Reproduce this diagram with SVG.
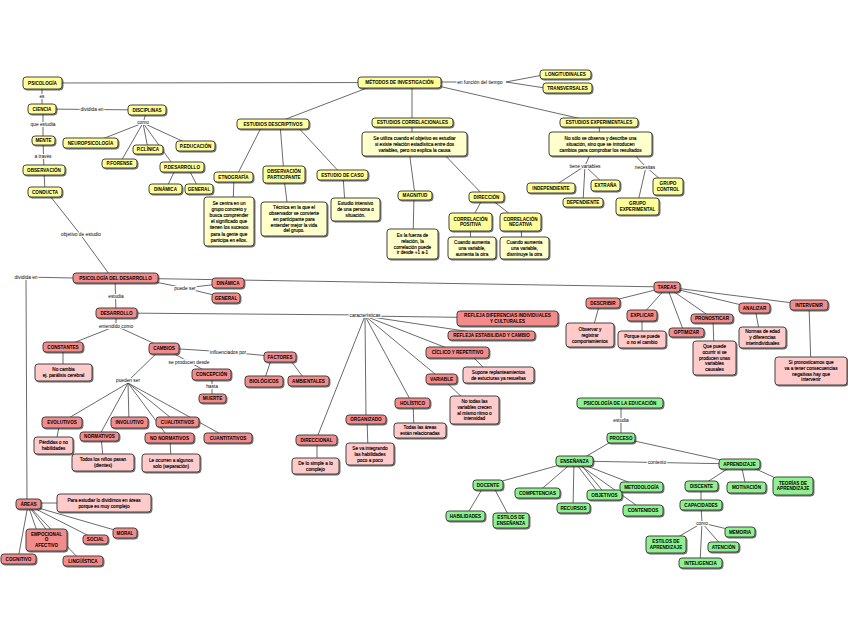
<svg xmlns="http://www.w3.org/2000/svg" width="848" height="638" viewBox="0 0 848 638">
<defs>
<filter id="sh" x="-20%" y="-20%" width="140%" height="160%"><feDropShadow dx="0.9" dy="1" stdDeviation="0.4" flood-color="#000" flood-opacity="0.6"/></filter>
<style>
.n rect{stroke:#444;stroke-width:1;filter:url(#sh)}
.y rect{fill:#ffff99}.yl rect{fill:#ffffcc}
.r rect{fill:#f38b8b}.rl rect{fill:#ffcaca}
.g rect{fill:#8ff08f}
text{font-family:"Liberation Sans",Arial,sans-serif;fill:#000;text-anchor:middle}
.n text{font-size:4.6px;font-weight:bold}
.yl text,.rl text{font-size:4.7px;font-weight:normal;stroke:#000;stroke-width:0.15px}
.lb{font-size:4.8px;stroke:#fff;stroke-width:2.2px;paint-order:stroke;stroke-linejoin:round}
.c{stroke:#444;stroke-width:0.8;fill:none}
</style>
</defs>
<rect width="848" height="638" fill="#fff"/>
<g id="connectors">
<path class="c" d="M42,83 L399,82.5 M42,83 L42,109 M42,109 L147,110 M43,109 L43,140 M43,140 L44,170 M44,170 L45,192 M50,196 L80,234 L112,278
M147,110 L143,123 M143,123 L92,143 M143,123 L120,163 M143,123 L148,149 M143,123 L174,166 M143,123 L193,146
M176,168 L166,189 M188,168 L199,189
M380,83 L273,124 M412,83 L412,122 M425,83 L595,122 M440,82 L480,82 M506,82 L543,75 M506,82 L545,88
M263,124 L236,177 M280,124 L284,174 M295,124 L342,175
M234,177 L233,205 M284,178 L288,210 M343,175 L345,205
M412,122 L412,144 M409,150 L415,195 M440,150 L485,197 M414,196 L413,240
M482,200 L470,222 M492,200 L520,222 M470,225 L471,245 M521,225 L522,245
M599,122 L600,144 M592,150 L585,166 L551,188 M585,166 L583,202 M585,166 L605,185 M630,150 L646,167 L668,186 M646,167 L637,206
M115,278 L116,313 M73,278 L26,277 L27,504 M140,279 L185,288 L228,283 M185,288 L226,298 M115,278 L667,287
M116,313 L365,315 M365,316 L507,318 M365,316 L491,335 M365,316 L457,352 M365,316 L441,379 M365,316 L412,403 M365,316 L366,419 M365,316 L316,440
M472,356 L486,370 M446,382 L465,400 M413,403 L414,428 M367,419 L368,450 M317,440 L317,462
M116,313 L116,326 L63,347 M116,326 L164,348 M63,347 L63,370
M164,348 L228,352 L280,357 M272,357 L264,381 M288,357 L306,381
M164,348 L189,362 L211,374 M212,374 L212,398
M160,350 L128,381 M128,383 L62,422 M128,383 L99,436 M128,383 L129,422 M128,383 L176,422 M128,383 L168,437 M128,383 L226,437
M60,422 L56,442 M101,436 L103,458 M170,438 L171,460
M28,503 L104,503 M28,505 L18,559 M28,505 L40,540 M28,505 L54,540 M28,505 L80,560 M28,505 L95,539 M28,505 L125,533
M667,287 L603,303 M667,287 L642,315 M667,287 L684,332 M667,287 L712,318 M667,287 L754,308 M667,287 L809,305
M600,303 L591,335 M642,316 L642,338 M713,318 L714,350 M755,308 L760,335 M809,305 L811,368
M621,403 L621,438 M614,440 L580,460 M630,440 L739,464 M574,461 L739,464
M574,461 L488,485 M574,461 L537,493 M574,461 L573,508 M574,461 L600,495 M578,461 L606,495 M574,461 L641,487 M574,461 L643,510
M484,486 L466,516 M493,486 L510,518
M735,464 L701,486 M741,464 L746,487 M745,464 L793,486 M701,486 L701,505 M701,505 L702,523 L740,532 M702,523 L723,547 M702,523 L666,544 M702,523 L700,563"/>
</g>
<g id="labels">
<text class="lb" x="42" y="97.5">es</text>
<text class="lb" x="92" y="110.6">dividida en</text>
<text class="lb" x="43" y="125.6">que estudia</text>
<text class="lb" x="43" y="157.6">a través</text>
<text class="lb" x="143" y="123.6">como</text>
<text class="lb" x="81" y="235.6">objetivo de estudio</text>
<text class="lb" x="480" y="83.6">en función del tiempo</text>
<text class="lb" x="585" y="167.6">tiene variables</text>
<text class="lb" x="645" y="168.6">necesitas</text>
<text class="lb" x="26" y="278.6">dividida en</text>
<text class="lb" x="116" y="297.6">estudia</text>
<text class="lb" x="185" y="289.6">puede ser</text>
<text class="lb" x="116" y="327.6">entendido como</text>
<text class="lb" x="365" y="316.6">características</text>
<text class="lb" x="228" y="353.6">influenciados por</text>
<text class="lb" x="189" y="363.6">se producen desde</text>
<text class="lb" x="212" y="387.6">hasta</text>
<text class="lb" x="128" y="381.6">pueden ser</text>
<text class="lb" x="621" y="421.6">estudia</text>
<text class="lb" x="657" y="463.6">contexto</text>
<text class="lb" x="702" y="524.6">como</text>
</g>
<!-- yellow nodes -->
<g id="psicologia" class="n y"><rect x="23" y="77" width="39" height="12" rx="3"/><text x="42.5" y="84.6">PSICOLOGÍA</text></g>
<g id="ciencia" class="n y"><rect x="28" y="104" width="28" height="10" rx="3"/><text x="42" y="110.6">CIENCIA</text></g>
<g id="mente" class="n y"><rect x="32" y="136" width="23" height="9" rx="3"/><text x="43.5" y="142.1">MENTE</text></g>
<g id="observacion" class="n y"><rect x="23" y="165" width="42" height="10" rx="3"/><text x="44" y="171.6">OBSERVACIÓN</text></g>
<g id="conducta" class="n y"><rect x="28" y="187" width="34" height="10" rx="3"/><text x="45" y="193.6">CONDUCTA</text></g>
<g id="disciplinas" class="n y"><rect x="128" y="105" width="38" height="10" rx="3"/><text x="147" y="111.6">DISCIPLINAS</text></g>
<g id="neuro" class="n y"><rect x="63" y="138" width="55" height="10" rx="3"/><text x="90.5" y="144.6">NEUROPSICOLOGÍA</text></g>
<g id="pclinica" class="n y"><rect x="133" y="145" width="30" height="9" rx="3"/><text x="148" y="151.1">P.CLÍNICA</text></g>
<g id="peducacion" class="n y"><rect x="176" y="141" width="39" height="10" rx="3"/><text x="195.5" y="147.6">P.EDUCACIÓN</text></g>
<g id="pforense" class="n y"><rect x="102" y="159" width="35" height="9" rx="3"/><text x="119.5" y="165.1">P.FORENSE</text></g>
<g id="pdesarrollo" class="n y"><rect x="160" y="162" width="44" height="10" rx="3"/><text x="182" y="168.6">P.DESARROLLO</text></g>
<g id="dinamica-y" class="n y"><rect x="149" y="184" width="33" height="10" rx="3"/><text x="165.5" y="190.6">DINÁMICA</text></g>
<g id="general-y" class="n y"><rect x="185" y="184" width="28" height="10" rx="3"/><text x="199" y="190.6">GENERAL</text></g>
<g id="metodos" class="n y"><rect x="358" y="77" width="83" height="11" rx="3"/><text x="399.5" y="84.1">MÉTODOS DE INVESTIGACIÓN</text></g>
<g id="longitudinales" class="n y"><rect x="540" y="70" width="51" height="9" rx="3"/><text x="565.5" y="76.1">LONGITUDINALES</text></g>
<g id="transversales" class="n y"><rect x="543" y="83" width="49" height="10" rx="3"/><text x="567.5" y="89.6">TRANSVERSALES</text></g>
<g id="descriptivos" class="n y"><rect x="237" y="119" width="72" height="10" rx="3"/><text x="273" y="125.6">ESTUDIOS DESCRIPTIVOS</text></g>
<g id="etnografia" class="n y"><rect x="214" y="172" width="39" height="10" rx="3"/><text x="233.5" y="178.6">ETNOGRAFÍA</text></g>
<g id="obspart" class="n y"><rect x="263" y="166" width="42" height="17" rx="3"/><text x="284" y="173.3">OBSERVACIÓN<tspan x="284" dy="5.6">PARTICIPANTE</tspan></text></g>
<g id="caso" class="n y"><rect x="317" y="170" width="51" height="10" rx="3"/><text x="342.5" y="176.6">ESTUDIO DE CASO</text></g>
<g id="t-etno" class="n yl"><rect x="204" y="197" width="50" height="49" rx="3"/><text x="229" y="204.6">Se centra en un<tspan x="229" dy="6.2">grupo concreto y</tspan><tspan x="229" dy="6.2">busca comprender</tspan><tspan x="229" dy="6.2">el significado que</tspan><tspan x="229" dy="6.2">tienen los sucesos</tspan><tspan x="229" dy="6.2">para la gente que</tspan><tspan x="229" dy="6.2">participa en ellos.</tspan></text></g>
<g id="t-obs" class="n yl"><rect x="261" y="202" width="66" height="34" rx="3"/><text x="294" y="209.1">Técnica en la que el<tspan x="294" dy="5.8">observador se convierte</tspan><tspan x="294" dy="5.8">en participante para</tspan><tspan x="294" dy="5.8">entender mejor la vida</tspan><tspan x="294" dy="5.8">del grupo.</tspan></text></g>
<g id="t-caso" class="n yl"><rect x="331" y="198" width="49" height="23" rx="3"/><text x="355.5" y="205.4">Estudio intensivo<tspan x="355.5" dy="5.8">de una persona o</tspan><tspan x="355.5" dy="5.8">situación.</tspan></text></g>
<g id="correlacionales" class="n y"><rect x="372" y="118" width="81" height="9" rx="3"/><text x="412.5" y="124.1">ESTUDIOS CORRELACIONALES</text></g>
<g id="t-corr" class="n yl"><rect x="362" y="132" width="105" height="24" rx="3"/><text x="414.5" y="139.9">Se utiliza cuando el objetivo es estudiar<tspan x="414.5" dy="5.8">si existe relación estadística entre dos</tspan><tspan x="414.5" dy="5.8">variables, pero no explica la causa</tspan></text></g>
<g id="magnitud" class="n y"><rect x="398" y="191" width="34" height="9" rx="3"/><text x="415" y="197.1">MAGNITUD</text></g>
<g id="t-mag" class="n yl"><rect x="387" y="229" width="51" height="30" rx="3"/><text x="412.5" y="237">Es la fuerza de<tspan x="412.5" dy="5.8">relación, la</tspan><tspan x="412.5" dy="5.8">correlación puede</tspan><tspan x="412.5" dy="5.8">ir desde +1 a-1</tspan></text></g>
<g id="direccion" class="n y"><rect x="469" y="192" width="35" height="10" rx="3"/><text x="486.5" y="198.6">DIRECCIÓN</text></g>
<g id="corrpos" class="n y"><rect x="449" y="213" width="43" height="18" rx="3"/><text x="470.5" y="220.8">CORRELACIÓN<tspan x="470.5" dy="5.6">POSITIVA</tspan></text></g>
<g id="corrneg" class="n y"><rect x="500" y="213" width="41" height="18" rx="3"/><text x="520.5" y="220.8">CORRELACIÓN<tspan x="520.5" dy="5.6">NEGATIVA</tspan></text></g>
<g id="t-pos" class="n yl"><rect x="448" y="237" width="48" height="22" rx="3"/><text x="472" y="243.9">Cuando aumenta<tspan x="472" dy="5.8">una variable,</tspan><tspan x="472" dy="5.8">aumenta la otra</tspan></text></g>
<g id="t-neg" class="n yl"><rect x="500" y="237" width="49" height="22" rx="3"/><text x="524.5" y="243.9">Cuando aumenta<tspan x="524.5" dy="5.8">una variable,</tspan><tspan x="524.5" dy="5.8">disminuye la otra</tspan></text></g>
<g id="experimentales" class="n y"><rect x="560" y="118" width="78" height="9" rx="3"/><text x="599" y="124.1">ESTUDIOS EXPERIMENTALES</text></g>
<g id="t-exp" class="n yl"><rect x="549" y="132" width="103" height="24" rx="3"/><text x="600.5" y="139.9">No sólo se observa y describe una<tspan x="600.5" dy="5.8">situación, sino que se introducen</tspan><tspan x="600.5" dy="5.8">cambios para comprobar los resultados</tspan></text></g>
<g id="independiente" class="n y"><rect x="527" y="183" width="48" height="10" rx="3"/><text x="551" y="189.6">INDEPENDIENTE</text></g>
<g id="extrana" class="n y"><rect x="591" y="180" width="29" height="11" rx="3"/><text x="605.5" y="187.1">EXTRAÑA</text></g>
<g id="dependiente" class="n y"><rect x="563" y="198" width="40" height="9" rx="3"/><text x="583" y="204.1">DEPENDIENTE</text></g>
<g id="grupocontrol" class="n y"><rect x="653" y="178" width="30" height="17" rx="3"/><text x="668" y="185.3">GRUPO<tspan x="668" dy="5.6">CONTROL</tspan></text></g>
<g id="grupoexp" class="n y"><rect x="616" y="198" width="43" height="17" rx="3"/><text x="637.5" y="205.3">GRUPO<tspan x="637.5" dy="5.6">EXPERIMENTAL</tspan></text></g>
<!-- red nodes -->
<g id="pdd" class="n r"><rect x="73" y="273" width="85" height="10" rx="3"/><text x="115.5" y="279.6">PSICOLOGÍA DEL DESARROLLO</text></g>
<g id="dinamica-r" class="n r"><rect x="212" y="278" width="32" height="10" rx="3"/><text x="228" y="284.6">DINÁMICA</text></g>
<g id="general-r" class="n r"><rect x="212" y="293" width="28" height="10" rx="3"/><text x="226" y="299.6">GENERAL</text></g>
<g id="desarrollo" class="n r"><rect x="96" y="308" width="41" height="10" rx="3"/><text x="116.5" y="314.6">DESARROLLO</text></g>
<g id="constantes" class="n r"><rect x="43" y="342" width="40" height="10" rx="3"/><text x="63" y="348.6">CONSTANTES</text></g>
<g id="t-const" class="n rl"><rect x="35" y="364" width="57" height="17" rx="3"/><text x="63.5" y="371.2">No cambia<tspan x="63.5" dy="5.8">ej. parálisis cerebral</tspan></text></g>
<g id="cambios" class="n r"><rect x="149" y="343" width="30" height="11" rx="3"/><text x="164" y="350.1">CAMBIOS</text></g>
<g id="factores" class="n r"><rect x="264" y="352" width="32" height="10" rx="3"/><text x="280" y="358.6">FACTORES</text></g>
<g id="biologicos" class="n r"><rect x="245" y="376" width="38" height="11" rx="3"/><text x="264" y="383.1">BIOLÓGICOS</text></g>
<g id="ambientales" class="n r"><rect x="288" y="376" width="41" height="10" rx="3"/><text x="308.5" y="382.6">AMBIENTALES</text></g>
<g id="concepcion" class="n r"><rect x="192" y="369" width="39" height="11" rx="3"/><text x="211.5" y="376.1">CONCEPCIÓN</text></g>
<g id="muerte" class="n r"><rect x="199" y="394" width="27" height="9" rx="3"/><text x="212.5" y="400.1">MUERTE</text></g>
<g id="refleja-dif" class="n r"><rect x="457" y="311" width="101" height="15" rx="3"/><text x="507.5" y="317.3">REFLEJA DIFERENCIAS INDIVIDUALES<tspan x="507.5" dy="5.6">Y CULTURALES</tspan></text></g>
<g id="refleja-est" class="n r"><rect x="448" y="331" width="87" height="9" rx="3"/><text x="491.5" y="337.1">REFLEJA ESTABILIDAD Y CAMBIO</text></g>
<g id="ciclico" class="n r"><rect x="426" y="347" width="63" height="11" rx="3"/><text x="457.5" y="354.1">CÍCLICO Y REPETITIVO</text></g>
<g id="t-ciclico" class="n rl"><rect x="463" y="367" width="71" height="16" rx="3"/><text x="498.5" y="373.7">Supone replanteamientos<tspan x="498.5" dy="5.8">de estucturas ya resueltas</tspan></text></g>
<g id="variable" class="n r"><rect x="426" y="374" width="31" height="10" rx="3"/><text x="441.5" y="380.6">VARIABLE</text></g>
<g id="t-variable" class="n rl"><rect x="450" y="396" width="49" height="28" rx="3"/><text x="474.5" y="403">No todas las<tspan x="474.5" dy="5.8">variables crecen</tspan><tspan x="474.5" dy="5.8">al mismo ritmo o</tspan><tspan x="474.5" dy="5.8">intensidad</tspan></text></g>
<g id="holistico" class="n r"><rect x="395" y="398" width="35" height="10" rx="3"/><text x="412.5" y="404.6">HOLÍSTICO</text></g>
<g id="t-holistico" class="n rl"><rect x="394" y="423" width="52" height="15" rx="3"/><text x="420" y="429.4">Todas las áreas<tspan x="420" dy="5.8">están relacionadas</tspan></text></g>
<g id="organizado" class="n r"><rect x="346" y="415" width="40" height="9" rx="3"/><text x="366" y="421.1">ORGANIZADO</text></g>
<g id="t-organizado" class="n rl"><rect x="346" y="443" width="48" height="22" rx="3"/><text x="370" y="449.9">Se va integrando<tspan x="370" dy="5.8">las habilidades</tspan><tspan x="370" dy="5.8">poco a poco</tspan></text></g>
<g id="direccional" class="n r"><rect x="296" y="435" width="41" height="10" rx="3"/><text x="316.5" y="441.6">DIRECCIONAL</text></g>
<g id="t-direccional" class="n rl"><rect x="292" y="458" width="47" height="16" rx="3"/><text x="315.5" y="464.7">De lo simple a lo<tspan x="315.5" dy="5.8">complejo</tspan></text></g>
<g id="evolutivos" class="n r"><rect x="42" y="417" width="40" height="11" rx="3"/><text x="62" y="424.1">EVOLUTIVOS</text></g>
<g id="t-evolutivos" class="n rl"><rect x="34" y="437" width="39" height="17" rx="3"/><text x="53.5" y="444.2">Pérdidas o no<tspan x="53.5" dy="5.8">habilidades</tspan></text></g>
<g id="normativos" class="n r"><rect x="80" y="432" width="39" height="9" rx="3"/><text x="99.5" y="438.1">NORMATIVOS</text></g>
<g id="t-normativos" class="n rl"><rect x="72" y="454" width="62" height="17" rx="3"/><text x="103" y="461.2">Todos los niños pasan<tspan x="103" dy="5.8">(dientes)</tspan></text></g>
<g id="involutivo" class="n r"><rect x="111" y="417" width="37" height="11" rx="3"/><text x="129.5" y="424.1">INVOLUTIVO</text></g>
<g id="cualitativos" class="n r"><rect x="156" y="417" width="43" height="10" rx="3"/><text x="177.5" y="423.6">CUALITATIVOS</text></g>
<g id="nonormativos" class="n r"><rect x="145" y="433" width="49" height="10" rx="3"/><text x="169.5" y="439.6">NO NORMATIVOS</text></g>
<g id="t-nonormativos" class="n rl"><rect x="142" y="454" width="58" height="18" rx="3"/><text x="171" y="461.7">Le ocurren a algunos<tspan x="171" dy="5.8">solo (separación)</tspan></text></g>
<g id="cuantitativos" class="n r"><rect x="204" y="433" width="48" height="10" rx="3"/><text x="228" y="439.6">CUANTITATIVOS</text></g>
<g id="areas" class="n r"><rect x="16" y="499" width="25" height="10" rx="3"/><text x="28.5" y="505.6">ÁREAS</text></g>
<g id="t-areas" class="n rl"><rect x="57" y="494" width="94" height="18" rx="3"/><text x="104" y="501.7">Para estudiar lo dividimos en áreas<tspan x="104" dy="5.8">porque es muy complejo</tspan></text></g>
<g id="emocional" class="n r"><rect x="26" y="529" width="41" height="22" rx="3"/><text x="46.5" y="535.6">EMPOCIONAL<tspan x="46.5" dy="5.8">O</tspan><tspan x="46.5" dy="5.8">AFECTIVO</tspan></text></g>
<g id="social" class="n r"><rect x="83" y="535" width="25" height="9" rx="3"/><text x="95.5" y="541.1">SOCIAL</text></g>
<g id="moral" class="n r"><rect x="113" y="528" width="24" height="10" rx="3"/><text x="125" y="534.6">MORAL</text></g>
<g id="cognitivo" class="n r"><rect x="1" y="554" width="35" height="10" rx="3"/><text x="18.5" y="560.6">COGNITIVO</text></g>
<g id="linguistica" class="n r"><rect x="63" y="556" width="40" height="10" rx="3"/><text x="83" y="562.6">LINGÜÍSTICA</text></g>
<g id="tareas" class="n r"><rect x="654" y="282" width="26" height="10" rx="3"/><text x="667" y="288.6">TAREAS</text></g>
<g id="describir" class="n r"><rect x="586" y="298" width="34" height="10" rx="3"/><text x="603" y="304.6">DESCRIBIR</text></g>
<g id="t-describir" class="n rl"><rect x="566" y="323" width="48" height="24" rx="3"/><text x="590" y="330.9">Observar y<tspan x="590" dy="5.8">registrar</tspan><tspan x="590" dy="5.8">comportamientos</tspan></text></g>
<g id="explicar" class="n r"><rect x="627" y="310" width="30" height="11" rx="3"/><text x="642" y="317.1">EXPLICAR</text></g>
<g id="t-explicar" class="n rl"><rect x="618" y="331" width="48" height="17" rx="3"/><text x="642" y="338.2">Porque se puede<tspan x="642" dy="5.8">o no el cambio</tspan></text></g>
<g id="optimizar" class="n r"><rect x="669" y="328" width="35" height="9" rx="3"/><text x="686.5" y="334.1">OPTIMIZAR</text></g>
<g id="pronosticar" class="n r"><rect x="691" y="314" width="42" height="9" rx="3"/><text x="712" y="320.1">PRONOSTICAR</text></g>
<g id="t-pronosticar" class="n rl"><rect x="693" y="341" width="43" height="34" rx="3"/><text x="714.5" y="348">Que puede<tspan x="714.5" dy="5.8">ocurrir si se</tspan><tspan x="714.5" dy="5.8">producen unas</tspan><tspan x="714.5" dy="5.8">variables</tspan><tspan x="714.5" dy="5.8">causales</tspan></text></g>
<g id="analizar" class="n r"><rect x="739" y="303" width="31" height="10" rx="3"/><text x="754.5" y="309.6">ANALIZAR</text></g>
<g id="t-analizar" class="n rl"><rect x="739" y="327" width="47" height="21" rx="3"/><text x="762.5" y="333.4">Normas de edad<tspan x="762.5" dy="5.8">y diferencias</tspan><tspan x="762.5" dy="5.8">interindividuales</tspan></text></g>
<g id="intervenir" class="n r"><rect x="790" y="300" width="38" height="10" rx="3"/><text x="809" y="306.6">INTERVENIR</text></g>
<g id="t-intervenir" class="n rl"><rect x="775" y="357" width="72" height="28" rx="3"/><text x="811" y="364">Si pronosticamos que<tspan x="811" dy="5.8">va a tener  consecuencias</tspan><tspan x="811" dy="5.8">negativas hay que</tspan><tspan x="811" dy="5.8">intervenir</tspan></text></g>
<!-- green nodes -->
<g id="psicedu" class="n g"><rect x="577" y="398" width="86" height="10" rx="3"/><text x="620" y="404.6">PSICOLOGÍA DE LA EDUCACIÓN</text></g>
<g id="proceso" class="n g"><rect x="607" y="433" width="28" height="10" rx="3"/><text x="621" y="439.6">PROCESO</text></g>
<g id="ensenanza" class="n g"><rect x="556" y="456" width="37" height="10" rx="3"/><text x="574.5" y="462.6">ENSEÑANZA</text></g>
<g id="aprendizaje" class="n g"><rect x="719" y="459" width="41" height="10" rx="3"/><text x="739.5" y="465.6">APRENDIZAJE</text></g>
<g id="docente" class="n g"><rect x="473" y="480" width="30" height="10" rx="3"/><text x="488" y="486.6">DOCENTE</text></g>
<g id="competencias" class="n g"><rect x="515" y="488" width="45" height="10" rx="3"/><text x="537.5" y="494.6">COMPETENCIAS</text></g>
<g id="recursos" class="n g"><rect x="557" y="503" width="33" height="10" rx="3"/><text x="573.5" y="509.6">RECURSOS</text></g>
<g id="objetivos" class="n g"><rect x="587" y="490" width="35" height="10" rx="3"/><text x="604.5" y="496.6">OBJETIVOS</text></g>
<g id="metodologia" class="n g"><rect x="620" y="482" width="43" height="10" rx="3"/><text x="641.5" y="488.6">METODOLOGÍA</text></g>
<g id="contenidos" class="n g"><rect x="623" y="505" width="40" height="11" rx="3"/><text x="643" y="512.1">CONTENIDOS</text></g>
<g id="habilidades" class="n g"><rect x="446" y="511" width="39" height="10" rx="3"/><text x="465.5" y="517.6">HABILIDADES</text></g>
<g id="estilosens" class="n g"><rect x="493" y="513" width="36" height="15" rx="3"/><text x="511" y="519.3">ESTILOS DE<tspan x="511" dy="5.6">ENSEÑANZA</tspan></text></g>
<g id="discente" class="n g"><rect x="685" y="481" width="33" height="10" rx="3"/><text x="701.5" y="487.6">DISCENTE</text></g>
<g id="motivacion" class="n g"><rect x="727" y="482" width="39" height="11" rx="3"/><text x="746.5" y="489.1">MOTIVACIÓN</text></g>
<g id="teorias" class="n g"><rect x="773" y="477" width="40" height="18" rx="3"/><text x="793" y="484.8">TEORÍAS DE<tspan x="793" dy="5.6">APRENDIZAJE</tspan></text></g>
<g id="capacidades" class="n g"><rect x="680" y="500" width="42" height="10" rx="3"/><text x="701" y="506.6">CAPACIDADES</text></g>
<g id="memoria" class="n g"><rect x="725" y="527" width="30" height="10" rx="3"/><text x="740" y="533.6">MEMORIA</text></g>
<g id="atencion" class="n g"><rect x="708" y="542" width="31" height="10" rx="3"/><text x="723.5" y="548.6">ATENCIÓN</text></g>
<g id="estilosapr" class="n g"><rect x="646" y="536" width="40" height="17" rx="3"/><text x="666" y="543.3">ESTILOS DE<tspan x="666" dy="5.6">APRENDIZAJE</tspan></text></g>
<g id="inteligencia" class="n g"><rect x="679" y="558" width="43" height="10" rx="3"/><text x="700.5" y="564.6">INTELIGENCIA</text></g>
</svg>
